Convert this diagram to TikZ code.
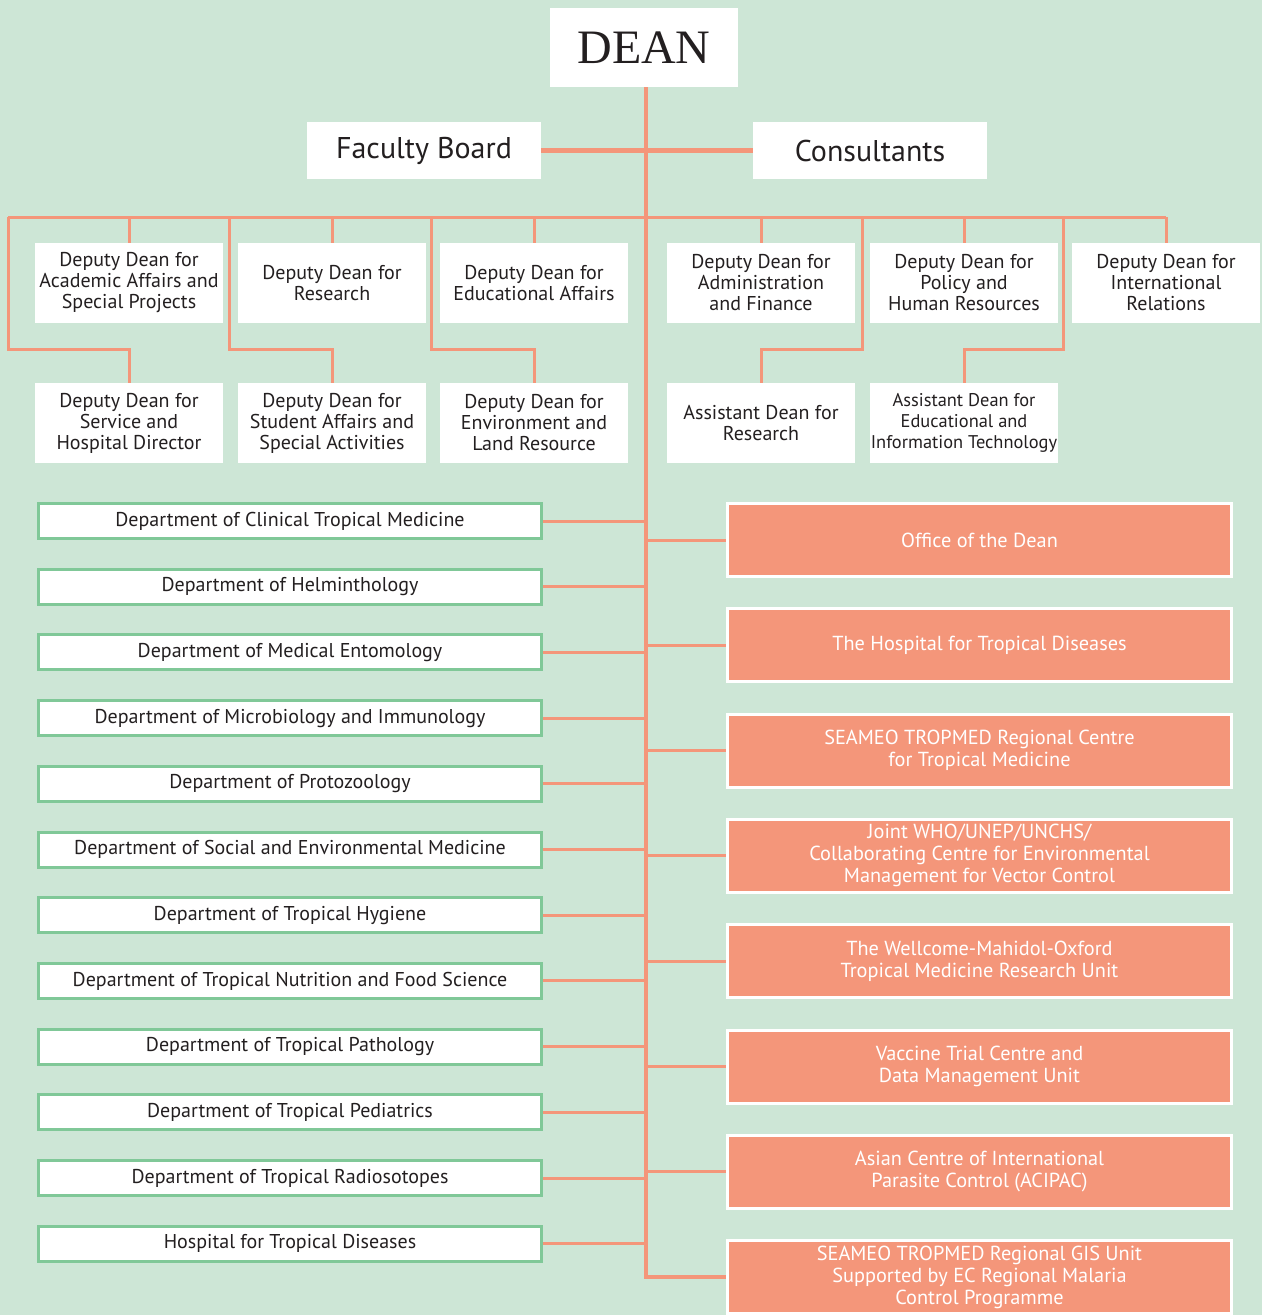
\documentclass[tikz,border=0pt]{standalone}
\usepackage{fontspec}
\setmainfont{PT Sans}
\newfontfamily\deanfont{Liberation Serif}
\usetikzlibrary{positioning}

\definecolor{bgmint}{RGB}{205,230,214}
\definecolor{linesalmon}{RGB}{244,150,122}
\definecolor{deptgreen}{RGB}{128,200,152}
\definecolor{txtdark}{RGB}{35,31,32}

\tikzset{
    officebox/.style={fill=white, text=txtdark, align=center, inner sep=0pt,
        minimum width=188pt, minimum height=80pt, font=\fontsize{20}{21}\selectfont},
    deptbox/.style={draw=deptgreen, line width=3pt, fill=white, text=txtdark, inner sep=0pt,
        minimum width=503pt, minimum height=35pt, font=\fontsize{20}{21}\selectfont},
    unitbox/.style={draw=white, line width=3pt, fill=linesalmon, text=white, align=center, inner sep=0pt,
        minimum width=504pt, minimum height=73pt, font=\fontsize{20.3}{22}\selectfont},
    link/.style={draw=linesalmon, line width=3pt},
}

\begin{document}
\begin{tikzpicture}[x=1pt,y=-1pt]
    \fill[bgmint] (0,0) rectangle (1262,1315);
    \useasboundingbox (0,0) rectangle (1262,1315);

    % top of the chart
    \node[fill=white, text=txtdark, minimum width=188pt, minimum height=79pt, font=\deanfont\fontsize{48}{50}\selectfont] (dean) at (644,47.5) {DEAN};
    \node[fill=white, text=txtdark, minimum width=234pt, minimum height=57pt, font=\fontsize{30}{32}\selectfont] (board) at (424,150.5) {Faculty Board};
    \node[fill=white, text=txtdark, minimum width=234pt, minimum height=57pt, font=\fontsize{30}{32}\selectfont] (consult) at (870,150.5) {Consultants};

    \coordinate (trunkend) at (646,1276);
    \draw[link, line width=4.5pt] (board.east) -- (consult.west);

    % deputy and assistant deans
    \node[officebox] (acad) at (129,283) {Deputy Dean for\\Academic Affairs and\\Special Projects};
    \node[officebox] (resr) at (332,283) {Deputy Dean for\\Research};
    \node[officebox] (educ) at (534,283) {Deputy Dean for\\Educational Affairs};
    \node[officebox] (admn) at (761,283) {Deputy Dean for\\Administration\\and Finance};
    \node[officebox] (plcy) at (964,283) {Deputy Dean for\\Policy and\\Human Resources};
    \node[officebox] (intl) at (1166,283) {Deputy Dean for\\International\\Relations};

    \node[officebox] (serv) at (129,423) {Deputy Dean for\\Service and\\Hospital Director};
    \node[officebox] (stud) at (332,423) {Deputy Dean for\\Student Affairs and\\Special Activities};
    \node[officebox] (envi) at (534,423) {Deputy Dean for\\Environment and\\Land Resource};
    \node[officebox] (asres) at (761,423) {Assistant Dean for\\Research};
    \node[officebox, font=\fontsize{18.4}{21}\selectfont] (asit) at (964,423) {Assistant Dean for\\Educational and\\Information Technology};

    \coordinate (busL) at (8,217);
    \coordinate (busR) at (1166,217);
    \coordinate (kServ) at (8,217);
    \coordinate (kStud) at (229,217);
    \coordinate (kEnvi) at (431,217);
    \coordinate (kAsres) at (862,217);
    \coordinate (kAsit) at (1063,217);

    \draw[link] (busL) -- (busR);
    \foreach \n in {acad,resr,educ,admn,plcy,intl}
        \draw[link] (\n.north |- busL) -- (\n.north);
    \foreach \k/\n in {kServ/serv,kStud/stud,kEnvi/envi,kAsres/asres,kAsit/asit}
        \draw[link] (\k) -- ++(0,132) -| (\n.north);

    % departments
    \foreach \txt [count=\i] in {Department of Clinical Tropical Medicine,
            Department of Helminthology,
            Department of Medical Entomology,
            Department of Microbiology and Immunology,
            Department of Protozoology,
            Department of Social and Environmental Medicine,
            Department of Tropical Hygiene,
            Department of Tropical Nutrition and Food Science,
            Department of Tropical Pathology,
            Department of Tropical Pediatrics,
            Department of Tropical Radiosotopes,
            Hospital for Tropical Diseases}{
        \node[deptbox] (dept\i) at (290,{521+65.7*(\i-1)}) {\txt};
        \draw[link] (dept\i.east) -- (dept\i.east -| trunkend);
    }

    % units
    \foreach \txt [count=\i] in {{Office of the Dean},
            {The Hospital for Tropical Diseases},
            {SEAMEO TROPMED Regional Centre\\for Tropical Medicine},
            {Joint WHO/UNEP/UNCHS/\\Collaborating Centre for Environmental\\Management for Vector Control},
            {The Wellcome-Mahidol-Oxford\\Tropical Medicine Research Unit},
            {Vaccine Trial Centre and\\Data Management Unit},
            {Asian Centre of International\\Parasite Control (ACIPAC)},
            {SEAMEO TROPMED Regional GIS Unit\\Supported by EC Regional Malaria\\Control Programme}}{
        \node[unitbox] (unit\i) at (979.5,{540+105.3*(\i-1)}) {\txt};
        \draw[link] (unit\i.west -| trunkend) -- (unit\i.west);
    }

    \draw[link, line width=4.5pt] (dean.south -| trunkend) -- (unit8.west -| trunkend) -- (unit8.west);
\end{tikzpicture}
\end{document}
